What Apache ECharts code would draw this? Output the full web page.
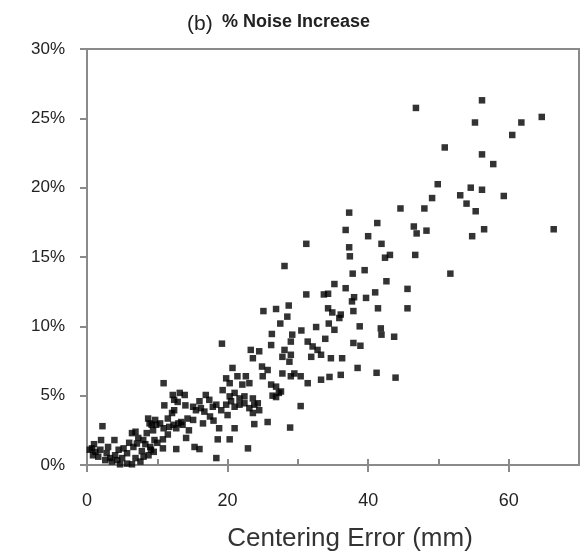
<!DOCTYPE html>
<html><head><meta charset="utf-8">
<script src="https://cdn.jsdelivr.net/npm/echarts@6/dist/echarts.min.js"></script>
<style>html,body{margin:0;padding:0;background:#fff}#c{width:582px;height:552px}</style>
</head><body><div id="c"></div>
<script>
// Centering error (mm) and % noise increase
const pointsUpper = [
[46.8,25.75],[56.2,26.3],[55.2,24.7],[61.8,24.7],[64.7,25.1],[60.5,23.8],[50.9,22.9],[56.2,22.4],[57.8,21.7],[49.9,20.25],
[49.1,19.25],[54.6,20.0],[56.2,19.85],[53.1,19.45],[54.0,18.85],[55.3,18.3],[59.3,19.4],[56.5,17.0],[54.8,16.5],[66.4,17.0],
[51.7,13.8],[44.6,18.5],[48.0,18.5],[46.5,17.2],[46.9,16.7],[48.3,16.9],[41.9,15.95],[37.3,18.2],[41.3,17.45],[36.8,16.95],
[40.0,16.5],[37.3,15.7],[37.4,15.05],[42.4,14.95],[43.1,15.15],[46.7,15.15],[37.8,13.8],[39.5,14.05],[42.6,13.25],[36.8,12.75],
[45.6,12.7],[38.0,12.1],[37.7,11.8],[39.7,12.05],[41.0,12.45],[37.9,11.1],[41.4,11.3],[45.6,11.3],[36.1,10.85],[38.8,10.0],
[41.8,9.85],[41.9,9.4],[43.7,9.25],[37.9,8.8],[38.9,8.6],[36.3,7.7],[38.5,7.0],[41.2,6.65],[43.9,6.3],[36.1,6.5]
];
const pointsMiddle = [
[31.2,15.95],[28.1,14.35],[35.2,13.05],[34.3,12.35],[33.7,12.3],[31.2,12.3],[28.7,11.5],[28.5,10.7],[34.3,11.3],[34.9,11.0],
[35.9,10.6],[34.4,10.2],[35.2,9.75],[25.1,11.1],[26.9,11.25],[27.5,10.2],[30.5,9.7],[32.6,9.95],[33.9,9.1],[26.3,9.45],
[26.2,8.65],[29.2,9.4],[29.0,8.9],[28.1,8.3],[27.8,7.8],[29.0,7.95],[28.8,7.45],[31.4,8.9],[32.1,8.55],[32.8,8.3],
[33.3,7.95],[31.9,7.8],[23.3,8.3],[24.5,8.2],[23.6,7.7],[34.7,7.7],[24.9,7.1],[25.7,6.85],[25.0,6.4],[27.8,6.6],
[29.0,6.4],[29.5,6.6],[30.4,6.4],[31.4,5.9],[33.3,6.15],[34.5,6.35],[22.6,6.4],[23.1,5.9],[22.1,5.8],[26.2,5.8],
[26.9,5.65],[27.6,5.3],[26.4,5.0],[22.4,4.95],[23.6,4.8],[24.3,4.45],[24.5,3.95],[23.6,3.75],[30.4,4.25],[23.8,2.95],
[25.7,3.1],[28.9,2.7],[27.3,5.2],[26.9,4.9]
];
const pointsLowerMid = [
[19.2,8.75],[20.7,7.0],[10.9,5.9],[19.8,6.25],[20.3,5.9],[21.4,6.4],[12.2,5.05],[13.2,5.2],[13.9,5.05],[12.4,4.7],
[12.9,4.55],[16.9,5.05],[17.4,4.7],[12.4,3.95],[8.7,3.35],[11.5,3.35],[2.2,2.8],[2.0,1.8],[3.9,1.8],[10.8,1.85],
[10.8,1.2],[12.7,1.15],[14.1,1.95],[15.3,1.3],[16.0,1.15],[18.6,1.85],[20.3,1.85],[18.8,2.65],[21.0,2.65],[18.4,0.5],
[22.9,1.2],[0.4,1.1],[0.85,0.7],[1.6,0.6],
[15.1,4.2],[15.5,3.95],[16.2,4.1],[16.7,3.85],[17.9,4.2],[18.4,4.35],[19.1,3.95],[19.8,4.35],[20.5,4.6],[21.0,4.2],
[21.7,4.35],[22.4,4.45],[23.1,4.1],[23.8,4.35],[21.0,5.2],[21.7,4.8],[13.4,3.1],[14.3,3.35],[15.1,3.25],[8.9,3.0],
[9.85,2.9],[11.7,2.75],[12.7,2.65],[13.6,2.9],[9.4,2.5],[9.6,1.8],[9.1,1.1],[19.3,5.4],[20.3,4.95],
[14.5,2.5],[16.5,3.0],[17.5,3.5],[14.0,4.3],[16.0,4.6],[11.0,4.3],[18.0,3.2],[20.0,3.6]
];
const pointsLowerLeft = [
[0.7,1.2],[1.2,0.95],[1.9,1.1],[2.8,0.85],[3.3,0.5],[4.0,0.7],[4.5,1.1],[5.2,1.2],[5.7,0.85],[6.6,1.3],
[6.4,2.3],[6.9,2.4],[7.3,1.95],[7.1,1.55],[8.0,1.8],[8.5,2.3],[9.2,2.9],[9.7,3.25],[10.4,3.0],[10.9,2.65],
[12.1,3.75],[12.3,2.9],[13.0,3.0],[2.6,0.35],[3.55,0.25],[4.3,0.35],[4.7,0.05],[5.7,0.1],[6.4,0.05],[6.9,0.5],
[7.6,0.25],[8.05,0.6],[8.75,0.7],[9.5,0.95],[9.0,1.3],
[1.0,1.5],[3.0,1.3],[5.0,0.5],[6.0,1.6],[7.8,1.0],[8.3,1.5],[10.0,1.6],[11.5,2.2]
];
const xTicks = [0, 20, 40, 60];
const xMinorTicks = [10, 30, 50];
const yTicks = [0, 5, 10, 15, 20, 25, 30];

const allPoints = pointsUpper.concat(pointsMiddle, pointsLowerMid, pointsLowerLeft);
const font = 'Liberation Sans, Arial, sans-serif';
const axisGray = '#8a8a8a';

const chart = echarts.init(document.getElementById('c'), null, {renderer: 'canvas'});
chart.setOption({
  animation: false,
  backgroundColor: '#fff',
  title: [
    {
      text: '(b)',
      left: 182, top: 9,
      textStyle: {fontFamily: font, fontSize: 21, fontWeight: 'normal', color: '#222'}
    },
    {
      text: '% Noise Increase',
      left: 217, top: 8,
      textStyle: {fontFamily: font, fontSize: 18, fontWeight: 'bold', color: '#222'}
    },
    {
      text: 'Centering Error (mm)',
      left: 345, top: 521, textAlign: 'center',
      textStyle: {fontFamily: font, fontSize: 26, fontWeight: 'normal', color: '#333'}
    }
  ],
  grid: {left: 87, right: 3, top: 49, bottom: 87, show: true, borderColor: axisGray, borderWidth: 2, backgroundColor: '#fff'},
  xAxis: [
    {
      type: 'value', min: 0, max: 70, interval: 10,
      axisLine: {show: true, lineStyle: {color: axisGray, width: 2}},
      axisTick: {show: true, customValues: xTicks, length: 7, lineStyle: {color: axisGray, width: 2}},
      axisLabel: {customValues: xTicks, margin: 27, fontFamily: font, fontSize: 18, color: '#222'},
      splitLine: {show: false}
    },
    {
      type: 'value', min: 0, max: 70, interval: 10, position: 'bottom',
      axisLine: {show: false},
      axisTick: {show: true, inside: true, customValues: xTicks.concat(xMinorTicks), length: 6, lineStyle: {color: axisGray, width: 2}},
      axisLabel: {show: false},
      splitLine: {show: false}
    }
  ],
  yAxis: {
    type: 'value', min: 0, max: 30, interval: 5,
    axisLine: {show: true, lineStyle: {color: axisGray, width: 2}},
    axisTick: {show: true, length: 7, customValues: yTicks, lineStyle: {color: axisGray, width: 2}},
    axisLabel: {formatter: '{value}%', margin: 22, fontFamily: font, fontSize: 17, color: '#222'},
    splitLine: {show: false}
  },
  series: [{
    type: 'scatter',
    data: allPoints,
    symbol: 'rect',
    symbolSize: 6.5,
    itemStyle: {color: '#000'}
  }]
});
</script>
</body></html>
